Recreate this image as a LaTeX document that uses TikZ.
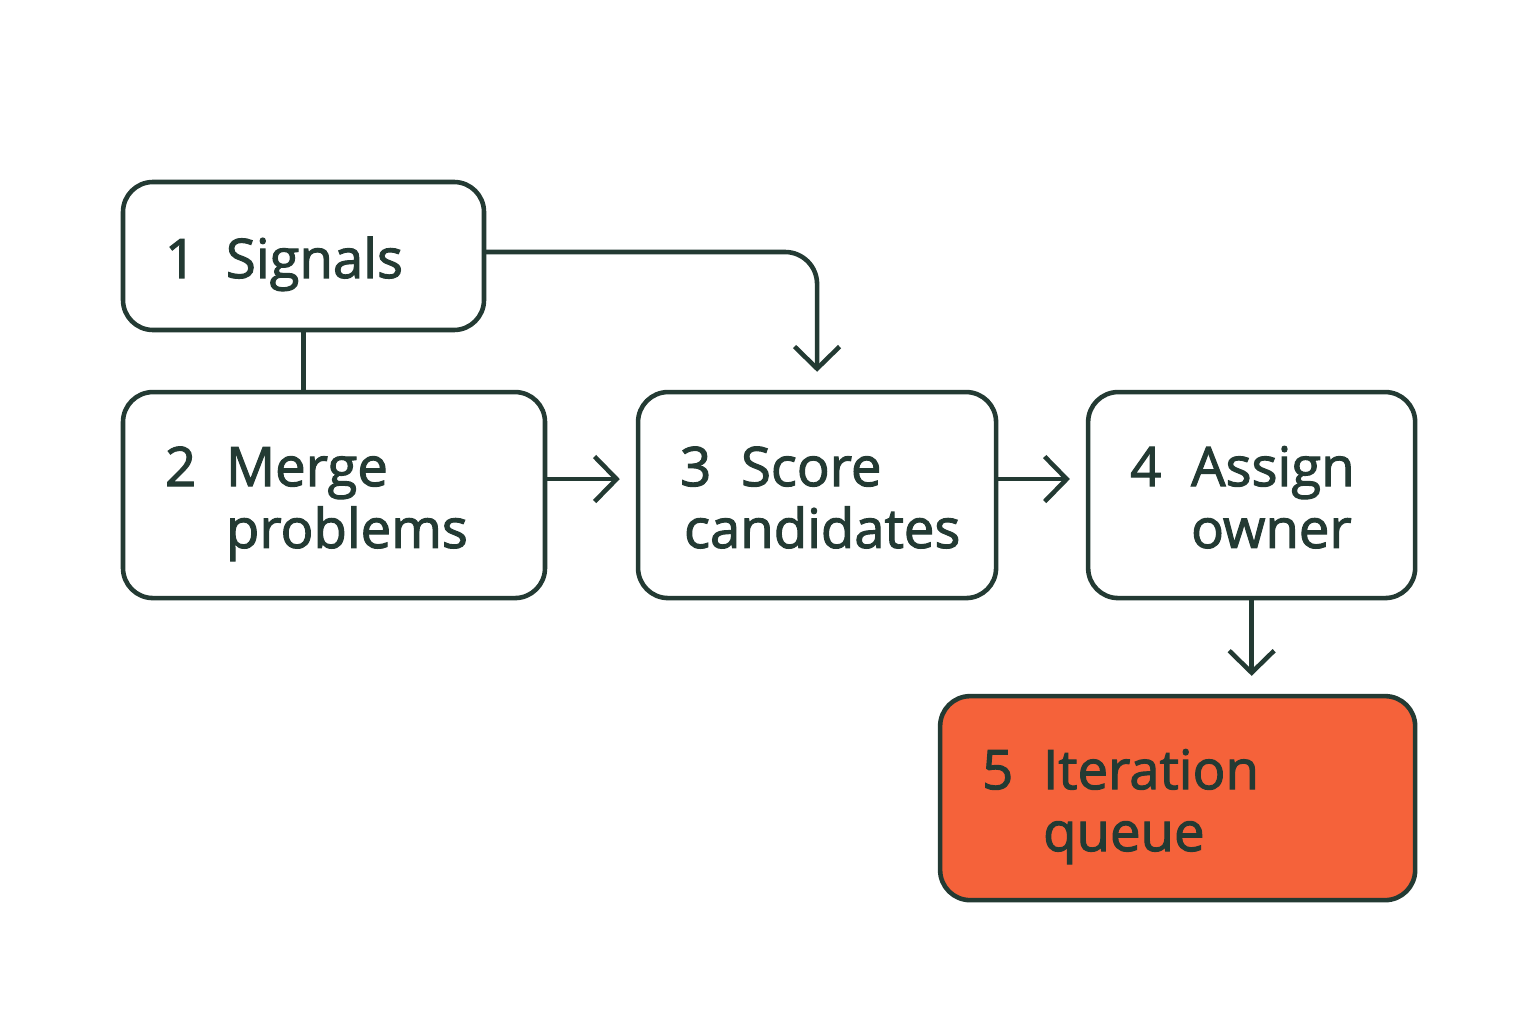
\documentclass[tikz,border=0pt]{standalone}
\usepackage{fontspec}
\setmainfont{Open Sans}[FakeBold=2]
\usepackage{xcolor}
\usetikzlibrary{shapes,arrows.meta,positioning,calc}

\definecolor{ink}{HTML}{233A33}
\definecolor{queuefill}{HTML}{F5623A}

\newcommand{\stepno}[1]{\makebox[0.61cm][l]{#1}}

\begin{document}
\begin{tikzpicture}[
  stepbox/.style={rectangle, draw=ink, line width=1.3pt, rounded corners=0.3cm,
                  align=left, inner xsep=0.42cm, text=ink, text height=0.57cm,
                  font=\fontsize{15.5}{17.6}\selectfont},
  twoline/.style={stepbox, minimum height=2.06cm, text depth=0.75cm},
  queue/.style={twoline, fill=queuefill},
  edge/.style={draw=ink, line width=1.3pt, line cap=round},
  arrow/.style={edge, -{Straight Barb[length=0.22cm, width=0.45cm, line width=1.3pt]}},
]
  \useasboundingbox (0,0) rectangle (15.36,10.24);

  % top row
  \node[stepbox, minimum width=3.61cm, minimum height=1.48cm, text width=2.77cm]
       (signals) at (3.035,7.68) {\stepno{1}Signals};

  % middle row
  \node[twoline, minimum width=4.22cm, text width=3.38cm,
        below right=0.575cm and 0cm of signals.south west]
       (merge) {\stepno{2}Merge\\ \stepno{}problems};
  \node[twoline, minimum width=3.58cm, text width=2.74cm,
        right=0.885cm of merge]
       (score) {\stepno{3}Score\\ \hspace*{0.04cm}\mbox{candidates}};
  \node[twoline, minimum width=3.27cm, text width=2.43cm,
        right=0.875cm of score]
       (assign) {\stepno{4}Assign\\ \stepno{}owner};

  % bottom row
  \node[queue, minimum width=4.75cm, minimum height=2.04cm, text width=3.91cm,
        below left=0.935cm and 0cm of assign.south east]
       (iterq) {\stepno{5}Iteration\\ \stepno{}queue};

  % connectors
  \draw[edge] (signals.south) -- (signals.south |- merge.north);
  \draw[arrow, rounded corners=0.32cm, shorten >=0.18cm]
       ([yshift=0.04cm]signals.east) -| (score.north);
  \draw[arrow, shorten >=0.16cm]
       ([yshift=0.16cm]merge.east) -- ([yshift=0.16cm]merge.east -| score.west);
  \draw[arrow, shorten >=0.16cm]
       ([yshift=0.16cm]score.east) -- ([yshift=0.16cm]score.east -| assign.west);
  \draw[arrow, shorten >=0.18cm] (assign.south) -- (assign.south |- iterq.north);

\end{tikzpicture}
\end{document}
